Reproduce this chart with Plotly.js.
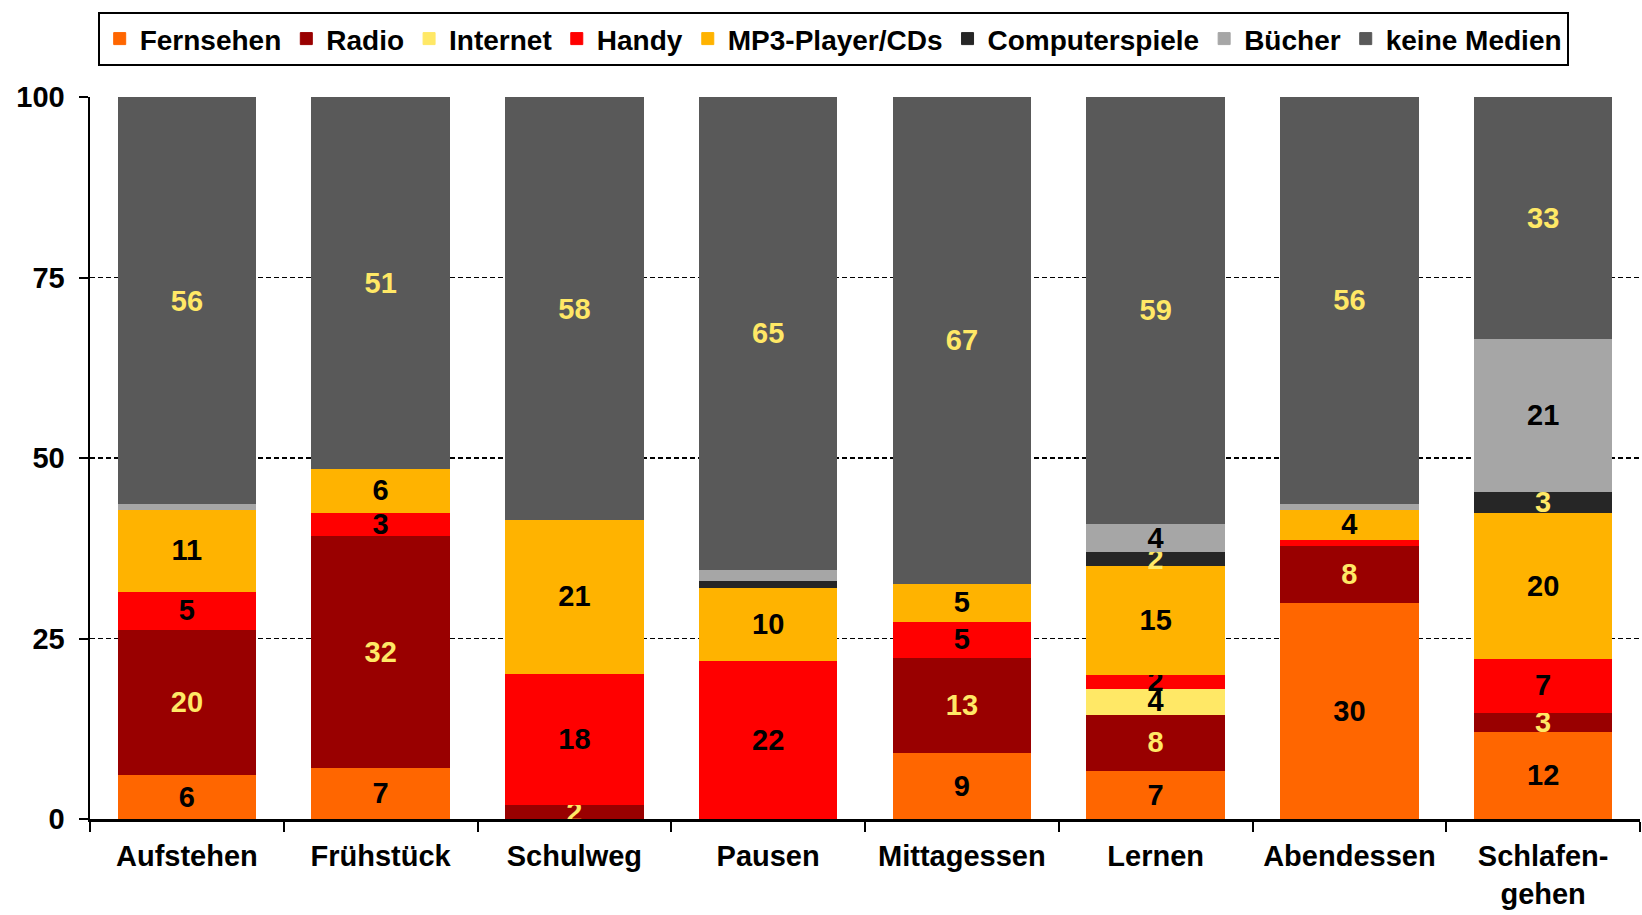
<!DOCTYPE html>
<html>
<head>
<meta charset="utf-8">
<script src="https://cdn.plot.ly/plotly-3.0.1.min.js"></script>
<style>
html,body{margin:0;padding:0;background:#fff;}
#chart{width:1642px;height:915px;}
</style>
</head>
<body>
<div id="chart"></div>
<script>
const categories = ["Aufstehen", "Frühstück", "Schulweg", "Pausen", "Mittagessen", "Lernen", "Abendessen", "Schlafen-<br>gehen"];
const seriesNames = ["Fernsehen", "Radio", "Internet", "Handy", "MP3-Player/CDs", "Computerspiele", "Bücher", "keine Medien"];

const fernsehen      = [6.2, 7.1, 0,    0,    9.2,  6.7,  30.0, 12.1];
const radio          = [20.1, 32.1, 2.0, 0,    13.2, 7.8,  7.9,  2.7];
const internet       = [0,   0,    0,    0,    0,    3.6,  0,    0];
const handy          = [5.2, 3.3,  18.2, 21.9, 5.0,  1.9,  0.8,  7.4];
const mp3            = [11.4, 6.1, 21.3, 10.2, 5.2,  15.1, 4.2,  20.2];
const computerspiele = [0,   0,    0,    1.0,  0,    1.9,  0,    3.0];
const buecher        = [0.8, 0,    0,    1.5,  0,    3.9,  0.8,  21.1];
const keineMedien    = [56.2, 51.4, 58.4, 65.4, 67.4, 59.1, 56.3, 33.4];

const seriesValues = [fernsehen, radio, internet, handy, mp3, computerspiele, buecher, keineMedien];
const seriesColors = ["#FF6600", "#990000", "#FFE866", "#FF0000", "#FFB300", "#262626", "#A6A6A6", "#595959"];
const labelColors  = ["#000000", "#FFE866", "#000000", "#000000", "#000000", "#FFE866", "#000000", "#FFE866"];

const FONT = "Liberation Sans, Arial, sans-serif";

const traces = seriesNames.map((name, i) => ({
  type: "bar",
  name: name,
  x: categories,
  y: seriesValues[i],
  text: seriesValues[i].map(v => v >= 1.8 ? String(Math.round(v)) : ""),
  texttemplate: "%{text}",
  textposition: "inside",
  insidetextanchor: "middle",
  constraintext: "none",
  textangle: 0,
  cliponaxis: false,
  textfont: {family: FONT, size: 29, weight: "bold", color: labelColors[i]},
  marker: {color: seriesColors[i], line: {width: 1, color: seriesColors[i]}},
  hoverinfo: "skip"
}));

const layout = {
  width: 1642,
  height: 915,
  barmode: "stack",
  bargap: 0.29,
  paper_bgcolor: "#ffffff",
  plot_bgcolor: "#ffffff",
  font: {family: FONT, size: 29, weight: "bold", color: "#000000"},
  margin: {l: 90, r: 2, t: 97, b: 96},
  showlegend: true,
  legend: {
    orientation: "h",
    xref: "container", yref: "container",
    x: 0.0595, xanchor: "left",
    y: 0.987, yanchor: "top",
    bordercolor: "#000000",
    borderwidth: 2,
    bgcolor: "#ffffff",
    traceorder: "normal",
    font: {family: FONT, size: 28, weight: "bold", color: "#000000"}
  },
  xaxis: {
    type: "category",
    showline: true,
    linecolor: "#000000",
    linewidth: 2.5,
    ticks: "outside",
    tickson: "boundaries",
    ticklen: 10,
    tickwidth: 2,
    tickcolor: "#000000",
    ticklabelstandoff: 10,
    showgrid: false,
    tickfont: {family: FONT, size: 29, weight: "bold", color: "#000000"}
  },
  yaxis: {
    range: [0, 100],
    tickvals: [0, 25, 50, 75, 100],
    showline: true,
    linecolor: "#000000",
    linewidth: 2.5,
    ticks: "outside",
    ticklen: 9,
    tickwidth: 2,
    tickcolor: "#000000",
    ticklabelstandoff: 8,
    showgrid: true,
    gridcolor: "#000000",
    gridwidth: 1.3,
    griddash: "5px,3px",
    zeroline: false,
    tickfont: {family: FONT, size: 29, weight: "bold", color: "#000000"}
  }
};

Plotly.newPlot("chart", traces, layout, {displayModeBar: false, staticPlot: true});
</script>
</body>
</html>
